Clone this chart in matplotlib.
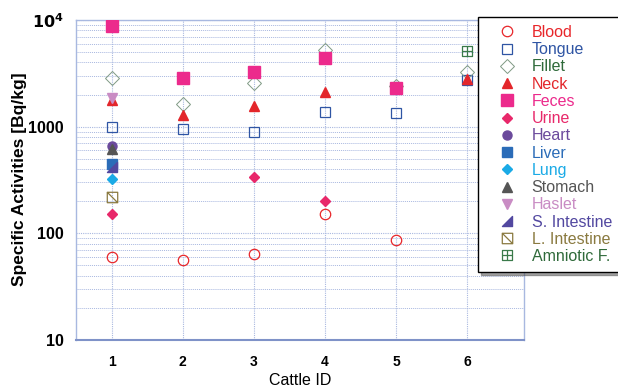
import matplotlib
matplotlib.use("Agg")
import matplotlib.pyplot as plt
from matplotlib.path import Path
from matplotlib.ticker import FixedLocator, LogLocator, NullFormatter
import numpy as np

plt.rcParams['font.family'] = ['Liberation Sans', 'DejaVu Sans']

cattle_ids = [1, 2, 3, 4, 5, 6]
x_tick_labels = ["1", "2", "3", "4", "5", "6"]

blood_x = [1, 2, 3, 4, 5]
blood_y = [60, 56, 64, 151, 86]
tongue_x = [1, 2, 3, 4, 5, 6]
tongue_y = [1000, 946, 890, 1365, 1353, 2750]
fillet_x = [1, 2, 3, 4, 5, 6]
fillet_y = [2880, 1645, 2550, 5250, 2400, 3280]
neck_x = [1, 2, 3, 4, 6]
neck_y = [1780, 1280, 1575, 2130, 2820]
feces_x = [1, 2, 3, 4, 5]
feces_y = [8850, 2860, 3240, 4440, 2305]
urine_x = [1, 3, 4]
urine_y = [153, 340, 202]
heart_x = [1]
heart_y = [664]
liver_x = [1]
liver_y = [445]
lung_x = [1]
lung_y = [323]
stomach_x = [1]
stomach_y = [617]
haslet_x = [1]
haslet_y = [1870]
sint_x = [1]
sint_y = [421]
lint_x = [1]
lint_y = [218]
amnio_x = [6]
amnio_y = [5120]

rt_tri = Path([(-1, -1), (1, -1), (1, 1), (-1, -1)],
              [Path.MOVETO, Path.LINETO, Path.LINETO, Path.CLOSEPOLY])
sq_diag = Path([(-1, -1), (1, -1), (1, 1), (-1, 1), (-1, -1), (-1, 1), (1, -1)],
               [Path.MOVETO, Path.LINETO, Path.LINETO, Path.LINETO, Path.CLOSEPOLY,
                Path.MOVETO, Path.LINETO])
sq_cross = Path([(-1, -1), (1, -1), (1, 1), (-1, 1), (-1, -1),
                 (0, -1), (0, 1), (-1, 0), (1, 0)],
                [Path.MOVETO, Path.LINETO, Path.LINETO, Path.LINETO, Path.CLOSEPOLY,
                 Path.MOVETO, Path.LINETO, Path.MOVETO, Path.LINETO])

series = [
    ("Blood", blood_x, blood_y, dict(marker='o', mfc='none', mec='#e8262a', ms=7.5, mew=0.9), '#e8262a'),
    ("Tongue", tongue_x, tongue_y, dict(marker='s', mfc='none', mec='#2f55a4', ms=7.5, mew=0.9), '#2f55a4'),
    ("Fillet", fillet_x, fillet_y, dict(marker='D', mfc='none', mec='#7f9a84', ms=7.5, mew=0.7), '#2f6a3a'),
    ("Neck", neck_x, neck_y, dict(marker='^', mfc='#e3262b', mec='#e3262b', ms=6.5), '#e3262b'),
    ("Feces", feces_x, feces_y, dict(marker='s', mfc='#ec2a8c', mec='#ec2a8c', ms=8.5), '#ec2a8c'),
    ("Urine", urine_x, urine_y, dict(marker='D', mfc='#e8286a', mec='#e8286a', ms=5.5), '#e8286a'),
    ("Heart", heart_x, heart_y, dict(marker='o', mfc='#6b4a9c', mec='#6b4a9c', ms=6.5), '#6b4a9c'),
    ("Liver", liver_x, liver_y, dict(marker='s', mfc='#2b6cb8', mec='#2b6cb8', ms=6.5), '#2b6cb8'),
    ("Lung", lung_x, lung_y, dict(marker='D', mfc='#1aaae6', mec='#1aaae6', ms=5.5), '#1aaae6'),
    ("Stomach", stomach_x, stomach_y, dict(marker='^', mfc='#555555', mec='#555555', ms=6.5), '#555555'),
    ("Haslet", haslet_x, haslet_y, dict(marker='v', mfc='#c98cc4', mec='#c98cc4', ms=6.5), '#c98cc4'),
    ("S. Intestine", sint_x, sint_y, dict(marker=rt_tri, mfc='#5248a0', mec='#5248a0', ms=6.5), '#5248a0'),
    ("L. Intestine", lint_x, lint_y, dict(marker=sq_diag, mfc='none', mec='#8a7a40', ms=7.5, mew=0.9), '#8a7a40'),
    ("Amniotic F.", amnio_x, amnio_y, dict(marker=sq_cross, mfc='none', mec='#3a7a4a', ms=7.5, mew=0.9), '#2f6a3a'),
]

fig = plt.figure(figsize=(6.18, 3.87), dpi=100)
ax = fig.add_axes([76/618, 1-340/387, (524-76)/618, (340-20)/387])

handles = []
for name, xs, ys, st, tc in series:
    h, = ax.plot(xs, ys, linestyle='none', label=name, zorder=3, **st)
    handles.append(h)

ax.set_yscale('log')
ax.set_ylim(10, 1e4)
ax.set_xlim(0.5, 6.8)
ax.set_xticks(cattle_ids)
ax.set_xticklabels(x_tick_labels, fontsize=10, fontweight='bold')
ax.yaxis.set_major_locator(FixedLocator([10, 100, 1000, 10000]))
ax.set_yticklabels(["10", "100", "1000", r"$\mathbf{10^4}$"], fontsize=11.5, fontweight='bold')
ax.yaxis.set_minor_locator(LogLocator(base=10, subs=np.arange(2, 10)))
ax.yaxis.set_minor_formatter(NullFormatter())
ax.tick_params(axis='x', which='both', length=0, pad=11)
ax.tick_params(axis='y', which='both', length=0, pad=9)

gridc = '#a9b8e0'
ax.grid(True, which='major', axis='both', color=gridc, linestyle=(0, (1, 1)), linewidth=0.8)
ax.grid(True, which='minor', axis='y', color=gridc, linestyle=(0, (1, 1)), linewidth=0.7)
for sp in ax.spines.values():
    sp.set_color('#a8b8e0')
    sp.set_linewidth(1.0)
ax.spines['bottom'].set_color('#7f92c8')
ax.spines['bottom'].set_linewidth(1.5)

ax.set_ylabel("Specific Activities [Bq/kg]", fontsize=12.5, fontweight='bold', va='center')
ax.yaxis.set_label_coords(-0.127, 0.503)
ax.set_xlabel("Cattle ID", fontsize=11.5, va='top')
ax.xaxis.set_label_coords(0.5, -0.103)

leg = fig.legend(handles=handles, loc='upper left', bbox_to_anchor=(478/618, 1-17/387),
                 fontsize=11.5, frameon=True, fancybox=False, shadow=True,
                 labelspacing=0.14, handletextpad=0.26, borderpad=0.5, handlelength=2.6,
                 borderaxespad=0)
leg.get_frame().set_edgecolor('black')
leg.get_frame().set_linewidth(1.0)
for txt, s in zip(leg.get_texts(), series):
    txt.set_color(s[4])

fig.savefig("out.png", dpi=100)
